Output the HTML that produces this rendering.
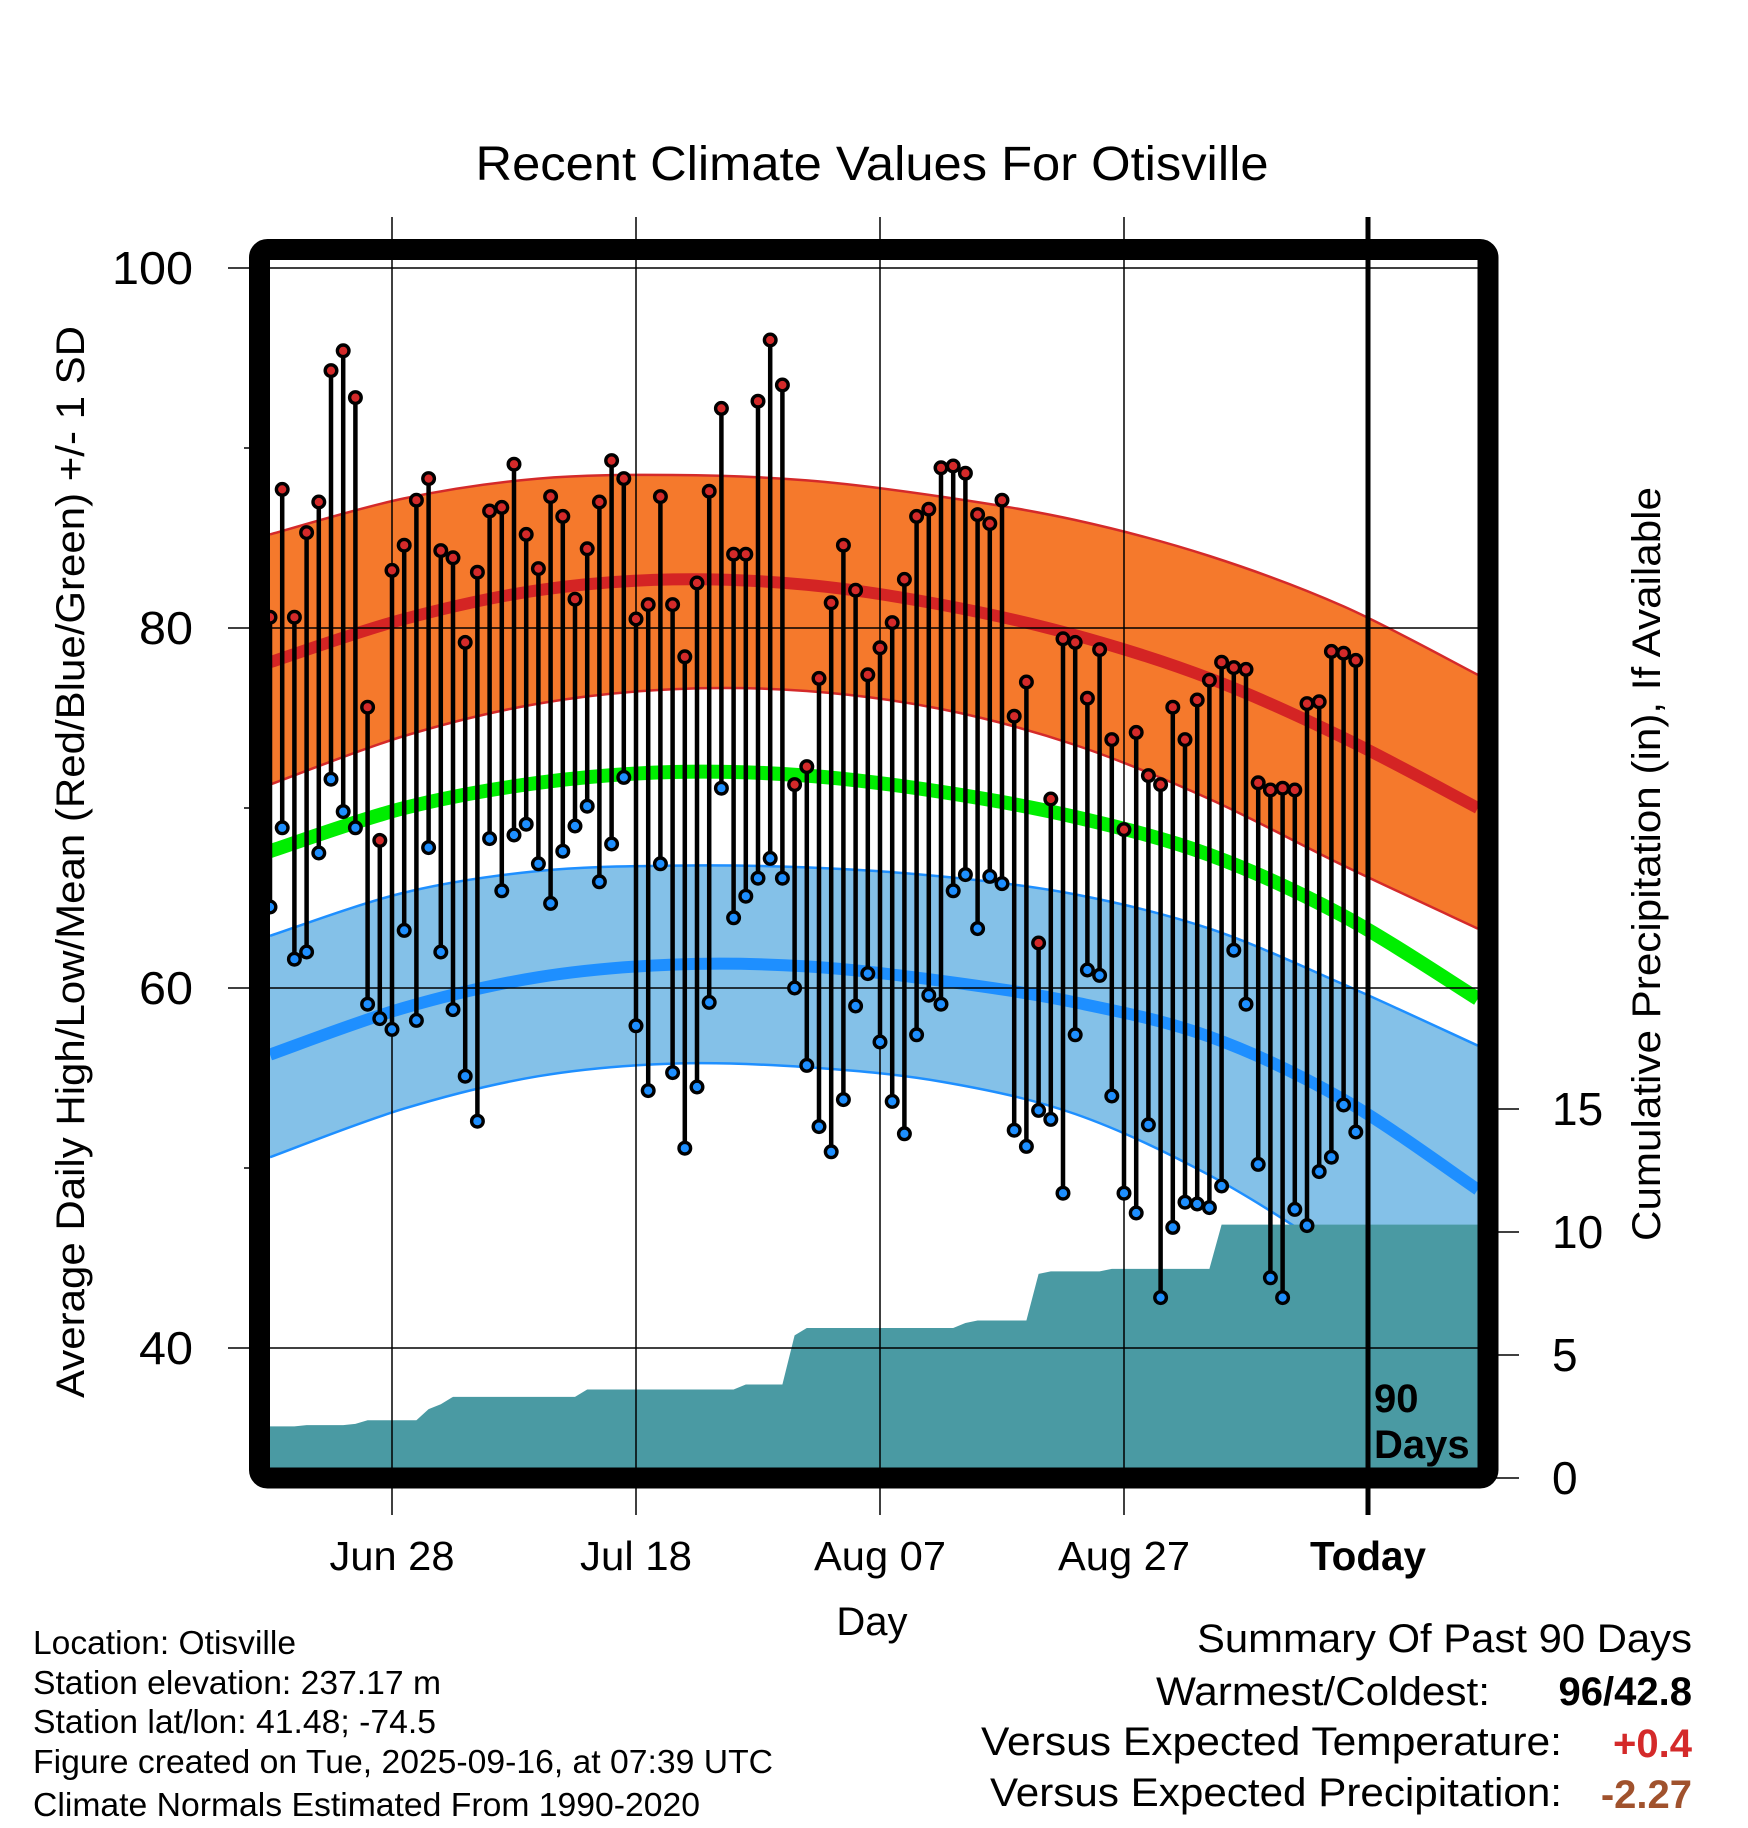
<!DOCTYPE html>
<html><head><meta charset="utf-8"><style>
html,body{margin:0;padding:0;background:#fff;}
svg{display:block;font-family:"Liberation Sans",Arial,sans-serif;}
</style></head><body>
<svg id="chart" width="1748" height="1828" viewBox="0 0 1748 1828" xmlns="http://www.w3.org/2000/svg">
<defs><clipPath id="plotclip"><rect x="270" y="260" width="1208" height="1208"/></clipPath></defs>
<text x="872" y="180" font-size="48" text-anchor="middle" textLength="793" lengthAdjust="spacingAndGlyphs">Recent Climate Values For Otisville</text>
<g id="plot" clip-path="url(#plotclip)"></g>
<g id="axes"></g>
<text transform="translate(84,862) rotate(-90)" font-size="40" text-anchor="middle" textLength="1072" lengthAdjust="spacingAndGlyphs">Average Daily High/Low/Mean (Red/Blue/Green) +/- 1 SD</text>
<text transform="translate(1660,864) rotate(-90)" font-size="40" text-anchor="middle" textLength="754" lengthAdjust="spacingAndGlyphs">Cumulative Precipitation (in), If Available</text>
<text x="872" y="1635" font-size="40" text-anchor="middle">Day</text>
<g font-size="33">
<text x="33" y="1654" textLength="263" lengthAdjust="spacingAndGlyphs">Location: Otisville</text>
<text x="33" y="1694" textLength="408" lengthAdjust="spacingAndGlyphs">Station elevation: 237.17 m</text>
<text x="33" y="1733" textLength="403" lengthAdjust="spacingAndGlyphs">Station lat/lon: 41.48; -74.5</text>
<text x="33" y="1773" textLength="740" lengthAdjust="spacingAndGlyphs">Figure created on Tue, 2025-09-16, at 07:39 UTC</text>
<text x="33" y="1816" textLength="667" lengthAdjust="spacingAndGlyphs">Climate Normals Estimated From 1990-2020</text>
</g>
<g font-size="40" text-anchor="end">
<text x="1692" y="1652" textLength="495" lengthAdjust="spacingAndGlyphs">Summary Of Past 90 Days</text>
<text x="1490" y="1705" textLength="334" lengthAdjust="spacingAndGlyphs">Warmest/Coldest:</text>
<text x="1692" y="1705" font-weight="bold">96/42.8</text>
<text x="1562" y="1755" textLength="581" lengthAdjust="spacingAndGlyphs">Versus Expected Temperature:</text>
<text x="1692" y="1757" font-weight="bold" fill="#d42a2a">+0.4</text>
<text x="1562" y="1806" textLength="572" lengthAdjust="spacingAndGlyphs">Versus Expected Precipitation:</text>
<text x="1692" y="1808" font-weight="bold" fill="#a0522d">-2.27</text>
</g>
</svg>
<script>
const highs=[80.6,87.7,80.6,85.3,87,94.3,95.4,92.8,75.6,68.2,83.2,84.6,87.1,88.3,84.3,83.9,79.2,83.1,86.5,86.7,89.1,85.2,83.3,87.3,86.2,81.6,84.4,87,89.3,88.3,80.5,81.3,87.3,81.3,78.4,82.5,87.6,92.2,84.1,84.1,92.6,96,93.5,71.3,72.3,77.2,81.4,84.6,82.1,77.4,78.9,80.3,82.7,86.2,86.6,88.9,89,88.6,86.3,85.8,87.1,75.1,77,62.5,70.5,79.4,79.2,76.1,78.8,73.8,68.8,74.2,71.8,71.3,75.6,73.8,76,77.1,78.1,77.8,77.7,71.4,71,71.1,71,75.8,75.9,78.7,78.6,78.2];
const lows=[64.5,68.9,61.6,62,67.5,71.6,69.8,68.9,59.1,58.3,57.7,63.2,58.2,67.8,62,58.8,55.1,52.6,68.3,65.4,68.5,69.1,66.9,64.7,67.6,69,70.1,65.9,68,71.7,57.9,54.3,66.9,55.3,51.1,54.5,59.2,71.1,63.9,65.1,66.1,67.2,66.1,60,55.7,52.3,50.9,53.8,59,60.8,57,53.7,51.9,57.4,59.6,59.1,65.4,66.3,63.3,66.2,65.8,52.1,51.2,53.2,52.7,48.6,57.4,61,60.7,54,48.6,47.5,52.4,42.8,46.7,48.1,48,47.8,49,62.1,59.1,50.2,43.9,42.8,47.7,46.8,49.8,50.6,53.5,52];
const precip=[2.1,2.1,2.1,2.15,2.15,2.15,2.15,2.2,2.35,2.35,2.35,2.35,2.35,2.8,3.0,3.3,3.3,3.3,3.3,3.3,3.3,3.3,3.3,3.3,3.3,3.3,3.6,3.6,3.6,3.6,3.6,3.6,3.6,3.6,3.6,3.6,3.6,3.6,3.6,3.8,3.8,3.8,3.8,5.8,6.1,6.1,6.1,6.1,6.1,6.1,6.1,6.1,6.1,6.1,6.1,6.1,6.1,6.3,6.4,6.4,6.4,6.4,6.4,8.3,8.4,8.4,8.4,8.4,8.4,8.5,8.5,8.5,8.5,8.5,8.5,8.5,8.5,8.5,10.3,10.3,10.3,10.3,10.3,10.3,10.3,10.3,10.3,10.3,10.3,10.3];
const normDays=[0,11,22,33,44,55,66,77,88,99];
const highMean=[78.1,80.5,82.1,82.7,82.4,81.3,79.6,77.2,73.9,70.0];
const highUpper=[85.2,87.2,88.3,88.5,88.2,87.3,86.0,84.0,81.2,77.4];
const highLower=[71.3,74.0,75.8,76.6,76.5,75.5,73.5,70.5,66.8,63.3];
const meanNorm=[67.6,70.0,71.4,72.0,71.8,70.9,69.5,67.4,64.0,59.4];
const lowMean=[56.3,58.9,60.6,61.3,61.2,60.4,59.2,57.3,53.8,48.8];
const lowUpper=[62.9,65.3,66.5,66.8,66.7,66.2,65.2,63.3,60.2,56.8];
const lowLower=[50.6,53.3,55.1,55.8,55.6,54.8,53.0,49.6,45.0,40.0];
const tempTicks=[100,80,60,40];
const tempMinor=[90,70,50];
const precipTicks=[0,5,10,15];
const dateLabels=["Jun 28","Jul 18","Aug 07","Aug 27","Today"];
const dateIdx=[10,30,50,70,90];
const labelLens=[125,112,132,132,116];

const NS="http://www.w3.org/2000/svg";
const X=i=>270+i*12.2;
const Y=t=>268+(100-t)*18;
const P=p=>1478-p*24.6;
const plot=document.getElementById('plot');
const axes=document.getElementById('axes');
const svg=document.getElementById('chart');
function mk(tag,attrs,parent){const e=document.createElementNS(NS,tag);for(const k in attrs)e.setAttribute(k,attrs[k]);parent.appendChild(e);return e;}
function smooth(days,vals){
  const pts=days.map((d,i)=>[X(d),Y(vals[i])]);
  let d='M'+pts[0][0]+','+pts[0][1];
  for(let i=0;i<pts.length-1;i++){
    const p0=pts[Math.max(0,i-1)],p1=pts[i],p2=pts[i+1],p3=pts[Math.min(pts.length-1,i+2)];
    const c1=[p1[0]+(p2[0]-p0[0])/6,p1[1]+(p2[1]-p0[1])/6];
    const c2=[p2[0]-(p3[0]-p1[0])/6,p2[1]-(p3[1]-p1[1])/6];
    d+=' C'+c1[0]+','+c1[1]+' '+c2[0]+','+c2[1]+' '+p2[0]+','+p2[1];
  }
  return d;
}
function band(up,lo){
  const a=smooth(normDays,up);
  const rd=normDays.slice().reverse(), rl=lo.slice().reverse();
  const b=smooth(rd,rl).replace(/^M/,'L');
  return a+' '+b+' Z';
}
let e;
e=mk('path',{d:band(highUpper,highLower),fill:'#f5792c',stroke:'none'},plot);


e=mk('path',{d:band(lowUpper,lowLower),fill:'#84c1e8',stroke:'none'},plot);


[[highUpper,'#d42a2a',2.5,'high-upper-edge'],[highLower,'#d42a2a',2.5,'high-lower-edge'],[lowUpper,'#1e8fff',2.5,'low-upper-edge'],[lowLower,'#1e8fff',2.5,'low-lower-edge'],[highMean,'#d42424',12,'normal-high-line'],[meanNorm,'#00ee00',14,'normal-mean-line'],[lowMean,'#1e8fff',12,'normal-low-line']].forEach(s=>{
  const l=mk('path',{d:smooth(normDays,s[0]),fill:'none',stroke:s[1],'stroke-width':s[2]},plot);
  
  
});
let pd='M270,'+P(precip[0]);
precip.forEach((p,i)=>{pd+=' L'+X(i)+','+P(p);});
pd+=' L1480,'+P(precip[precip.length-1])+' L1480,1470 L270,1470 Z';
e=mk('path',{d:pd,fill:'#4a9aa3'},plot);


tempTicks.forEach(t=>{
  const g=mk('line',{x1:228,x2:1480,y1:Y(t),y2:Y(t),stroke:'#000','stroke-width':1.5},svg);
  
  
  const lb=mk('text',{x:193,y:Y(t)+16,'font-size':46,'text-anchor':'end',textLength:String(t).length*27,lengthAdjust:'spacingAndGlyphs'},axes);
  lb.textContent=t;
  
  
});
tempMinor.forEach(t=>{
  const g=mk('line',{x1:244,x2:260,y1:Y(t),y2:Y(t),stroke:'#000','stroke-width':1.5},axes);
  
  
});
dateIdx.forEach((d,k)=>{
  const today=k===dateIdx.length-1;
  const g=mk('line',{x1:X(d),x2:X(d),y1:217,y2:1515,stroke:'#000','stroke-width':today?5:1.5},svg);
  
  
  const lb=mk('text',{x:X(d),y:1570,'font-size':41,'text-anchor':'middle','font-weight':today?'bold':'normal',textLength:labelLens[k],lengthAdjust:'spacingAndGlyphs'},axes);
  lb.textContent=dateLabels[k];
  
  
});
precipTicks.forEach(p=>{
  const g=mk('line',{x1:1490,x2:1519,y1:P(p),y2:P(p),stroke:'#000','stroke-width':1.5},axes);
  
  
  const lb=mk('text',{x:1552,y:P(p)+16,'font-size':46},axes);
  lb.textContent=p;
  
  
});
const pts=mk('g',{},svg);


highs.forEach((h,i)=>{
  const s=mk('line',{x1:X(i),x2:X(i),y1:Y(h),y2:Y(lows[i]),stroke:'#000','stroke-width':4.5},pts);
  
  
});
highs.forEach((h,i)=>{
  const c=mk('circle',{cx:X(i),cy:Y(h),r:5.8,fill:'#d42a2a',stroke:'#000','stroke-width':3.4},pts);
  
  
  const c2=mk('circle',{cx:X(i),cy:Y(lows[i]),r:5.8,fill:'#1e8fff',stroke:'#000','stroke-width':3.4},pts);
  
  
});
const t1=mk('text',{x:1374,y:1412,'font-size':40,'font-weight':'bold'},svg);
t1.textContent='90';


const t2=mk('text',{x:1374,y:1458,'font-size':40,'font-weight':'bold'},svg);
t2.textContent='Days';


const fr=mk('rect',{x:259.5,y:249.5,width:1228.5,height:1228.5,rx:8,fill:'none',stroke:'#000','stroke-width':21},svg);


</script>
</body></html>
